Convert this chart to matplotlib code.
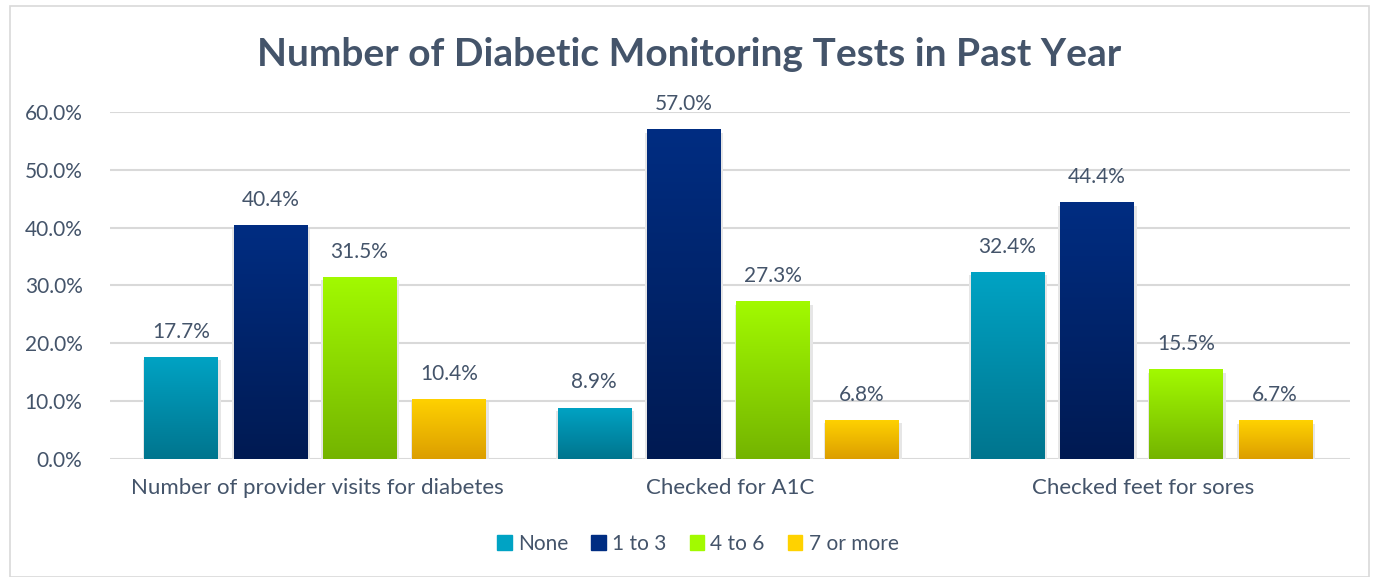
import numpy as np
import matplotlib.pyplot as plt
from matplotlib.colors import LinearSegmentedColormap
from matplotlib.patches import Rectangle

categories = ['Number of provider visits for diabetes', 'Checked for A1C', 'Checked feet for sores']
series = ['None', '1 to 3', '4 to 6', '7 or more']
none_vals = [17.7, 8.9, 32.4]
one_to_three = [40.4, 57.0, 44.4]
four_to_six = [31.5, 27.3, 15.5]
seven_plus = [10.4, 6.8, 6.7]
values = [none_vals, one_to_three, four_to_six, seven_plus]

# top / bottom colours of each gradient
grads = [('#00A3C4', '#00758E'), ('#002D82', '#001A52'),
         ('#A2FA00', '#74B400'), ('#FFD200', '#DC9E00')]

txt = '#44546A'
plt.rcParams['font.family'] = ['Lato', 'DejaVu Sans']

fig = plt.figure(figsize=(13.79, 5.77), dpi=100)
ax = fig.add_axes([0.08, 0.2045, 0.899, 0.6015])
fig.patches.append(Rectangle((0.007, 0.0), 0.986, 0.99, transform=fig.transFigure,
                             fill=False, ec='#D9D9D9', lw=1.2))

x = np.arange(len(categories))
step = 0.216
width = 0.177
gradient = np.linspace(1, 0, 256).reshape(-1, 1)

for i, (name, vals) in enumerate(zip(series, values)):
    top, bot = grads[i]
    cmap = LinearSegmentedColormap.from_list(name, [bot, top])
    pos = x + (i - 1.5) * step - 0.005
    bars = ax.bar(pos, vals, width, color=top, label=name, zorder=3)
    for b, v in zip(bars, vals):
        bx, by = b.get_x(), b.get_y()
        bw, bh = b.get_width(), b.get_height()
        # soft shadow
        ax.add_patch(Rectangle((bx - 0.004, by), bw + 0.012, bh - 0.6, color='#E6E6E6',
                               zorder=2, lw=0))
        im = ax.imshow(gradient, cmap=cmap, aspect='auto',
                       extent=[bx, bx + bw, by, by + bh], zorder=3.5, vmin=0, vmax=1)
        im.set_clip_path(b)
        ax.text(b.get_x() + bw / 2, v + 2.6, f'{v:.1f}%', ha='center', va='bottom',
                fontsize=15, color=txt, zorder=5)

ax.set_xlim(-0.5, 2.5)
ax.set_ylim(0, 60)
ax.set_yticks(np.arange(0, 61, 10))
ax.set_yticklabels([f'{t:.1f}%' for t in np.arange(0, 61, 10)])
ax.set_xticks(x)
ax.set_xticklabels(categories)
ax.tick_params(length=0, labelsize=15, labelcolor=txt)
ax.tick_params(axis='x', pad=14, labelsize=16)
ax.tick_params(axis='y', pad=20)
ax.grid(axis='y', color='#D9D9D9', lw=1.5, zorder=0)
for s in ax.spines.values():
    s.set_visible(False)

fig.text(0.5, 0.905, 'Number of Diabetic Monitoring Tests in Past Year', ha='center',
         va='center', fontsize=28, fontweight='bold', color=txt)

leg = ax.legend(loc='center', bbox_to_anchor=(0.474, -0.245), ncol=4, frameon=False,
                fontsize=15, handlelength=0.7, handleheight=0.7, handletextpad=0.3,
                columnspacing=1.1, labelcolor=txt)
for h, (top, bot) in zip(leg.legend_handles, grads):
    h.set_color(top)

fig.savefig('out.png', dpi=100)
